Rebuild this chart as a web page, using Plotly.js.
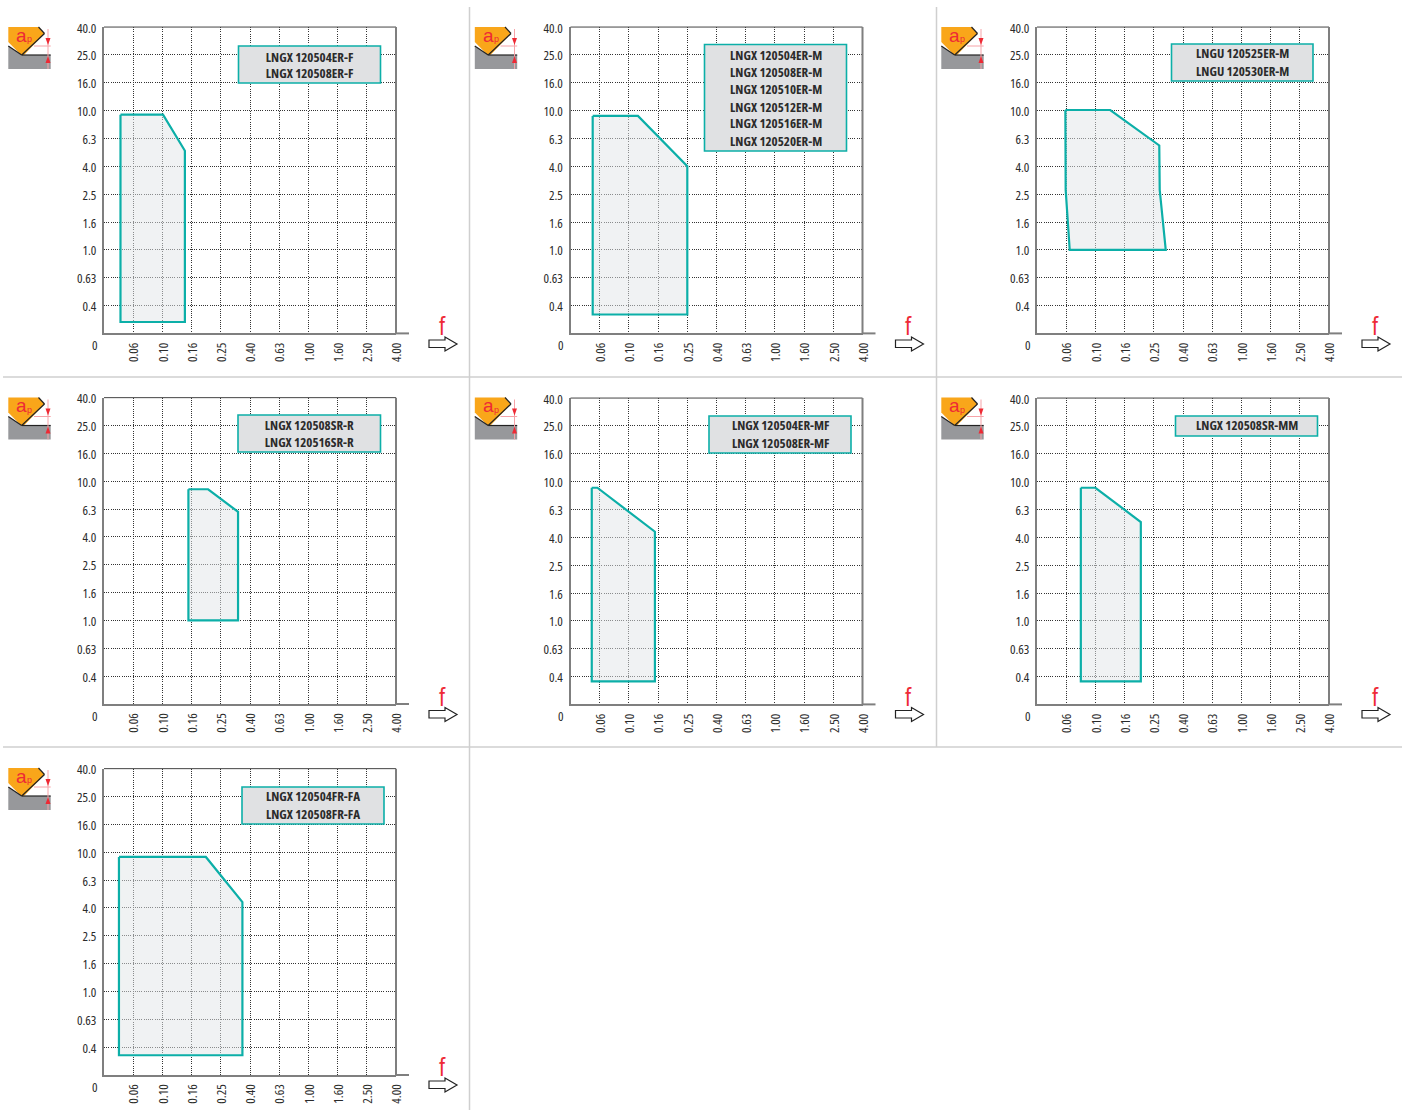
<!DOCTYPE html>
<html>
<head>
<meta charset="utf-8">
<script src="https://cdn.plot.ly/plotly-3.0.1.min.js"></script>
<style>html,body{margin:0;padding:0;background:#fff}#c{width:1410px;height:1110px}
#c text{font-stretch:75%}</style>
</head>
<body>
<div id="c"></div>
<script>
// Axis ladders (the charts use an even spacing per labelled step)
var feedTicks = [0.06, 0.10, 0.16, 0.25, 0.40, 0.63, 1.00, 1.60, 2.50, 4.00];
var feedLabels = ['0.06','0.10','0.16','0.25','0.40','0.63','1.00','1.60','2.50','4.00'];
var depthTicks = [0.4, 0.63, 1.0, 1.6, 2.5, 4.0, 6.3, 10.0, 16.0, 25.0, 40.0];
var depthLabels = ['0.4','0.63','1.0','1.6','2.5','4.0','6.3','10.0','16.0','25.0','40.0'];

// Operating windows: feed f and depth ap at each corner
var feed1 = [0.0489, 0.101, 0.1436, 0.1436, 0.0489, 0.0489];
var depth1 = [9.35, 9.35, 5.16, 0.303, 0.303, 9.35];
var feed2 = [0.0536, 0.1157, 0.25, 0.25, 0.0536, 0.0536];
var depth2 = [9.16, 9.16, 4.0, 0.344, 0.344, 9.16];
var feed3 = [0.0592, 0.127, 0.273, 0.275, 0.303, 0.0638, 0.0595, 0.0592];
var depth3 = [10.1, 10.1, 5.62, 2.68, 1.0, 1.0, 2.68, 10.1];
var feed4 = [0.152, 0.206, 0.33, 0.33, 0.152, 0.152];
var depth4 = [8.75, 8.75, 6.02, 1.0, 1.0, 8.75];
var feed5 = [0.0528, 0.0578, 0.152, 0.152, 0.0528, 0.0528];
var depth5 = [9.03, 9.03, 4.38, 0.369, 0.369, 9.03];
var feed6 = [0.0775, 0.1, 0.205, 0.205, 0.0775, 0.0775];
var depth6 = [9.03, 9.03, 5.13, 0.369, 0.369, 9.03];
var feed7 = [0.0477, 0.199, 0.354, 0.354, 0.0477, 0.0477];
var depth7 = [9.24, 9.24, 4.4, 0.349, 0.349, 9.24];

var models1 = ['LNGX 120504ER-F', 'LNGX 120508ER-F'];
var models2 = ['LNGX 120504ER-M', 'LNGX 120508ER-M', 'LNGX 120510ER-M', 'LNGX 120512ER-M', 'LNGX 120516ER-M', 'LNGX 120520ER-M'];
var models3 = ['LNGU 120525ER-M', 'LNGU 120530ER-M'];
var models4 = ['LNGX 120508SR-R', 'LNGX 120516SR-R'];
var models5 = ['LNGX 120504ER-MF', 'LNGX 120508ER-MF'];
var models6 = ['LNGX 120508SR-MM'];
var models7 = ['LNGX 120504FR-FA', 'LNGX 120508FR-FA'];

var W = 1410, H = 1110, STEPX = 29.2, STEPY = 27.85;
var NARROW = '"Open Sans",sans-serif';
var TEAL = '#0cafa8', GREY = '#7f7f7f', RED = '#ee2a35';

// Frame placement of each panel, in page pixels
var panels = [
  {feed: feed1, depth: depth1, models: models1, ox: 104, bottom: 333.4, dx: 0, dy: 0,
   box: [238.5, 380.5, 46, 83], lines: [56.5, 73.5]},
  {feed: feed2, depth: depth2, models: models2, ox: 570.5, bottom: 333.4, dx: 466.5, dy: 0,
   box: [704.5, 846.5, 44.5, 151], lines: [54.5, 71.5, 89, 106.5, 123.5, 140.5]},
  {feed: feed3, depth: depth3, models: models3, ox: 1037, bottom: 333.4, dx: 933, dy: 0,
   box: [1171.5, 1313, 44, 81], lines: [53.5, 70.5]},
  {feed: feed4, depth: depth4, models: models4, ox: 104, bottom: 704, dx: 0, dy: 370.5,
   box: [238, 380.5, 415, 452], lines: [424.5, 441.5]},
  {feed: feed5, depth: depth5, models: models5, ox: 570.5, bottom: 704.4, dx: 466.5, dy: 370.5,
   box: [709, 851, 416, 453], lines: [425.5, 442.5]},
  {feed: feed6, depth: depth6, models: models6, ox: 1037, bottom: 704.4, dx: 933, dy: 370.5,
   box: [1175.5, 1317.5, 416, 436], lines: [425.5]},
  {feed: feed7, depth: depth7, models: models7, ox: 104, bottom: 1075, dx: 0, dy: 741,
   box: [242, 384, 787, 824], lines: [795.5, 813.5]}
];

function px(x) { return x / W; }
function py(y) { return 1 - y / H; }

// Position on the evenly spaced step axis (log interpolation between labelled steps)
function toStep(v, ladder, below) {
  var full = [below].concat(ladder);
  for (var i = 0; i < full.length - 1; i++) {
    if (v <= full[i + 1]) return i + Math.log(v / full[i]) / Math.log(full[i + 1] / full[i]);
  }
  return full.length - 1;
}
function range(n, from) { var a = []; for (var i = 0; i < n; i++) a.push(i + from); return a; }

function pathOf(points, dx, dy) {
  return points.map(function (p, i) {
    return (i ? 'L' : 'M') + px(p[0] + dx) + ',' + py(p[1] + dy);
  }).join(' ') + ' Z';
}

var data = [], shapes = [], annotations = [];
var layout = {
  width: W, height: H, margin: {l: 0, r: 0, t: 0, b: 0},
  paper_bgcolor: '#fff', plot_bgcolor: 'rgba(0,0,0,0)', showlegend: false,
  font: {family: NARROW, color: '#2a2a2a'}
};

function paperLine(x0, y0, x1, y1, color, w) {
  shapes.push({type: 'line', xref: 'paper', yref: 'paper', x0: px(x0), y0: py(y0), x1: px(x1), y1: py(y1),
    line: {color: color, width: w}});
}
function label(x, y, text, font) {
  annotations.push({xref: 'paper', yref: 'paper', x: px(x), y: py(y), text: text,
    showarrow: false, xanchor: 'center', yanchor: 'middle', font: font});
}

// Separators between panels
var SEP = '#cfcfcf';
paperLine(3, 377, 1402, 377, SEP, 1.5);
paperLine(3, 747, 1402, 747, SEP, 1.5);
paperLine(469.5, 7, 469.5, 1110, SEP, 1.5);
paperLine(936.5, 7, 936.5, 747, SEP, 1.5);

panels.forEach(function (p, i) {
  var n = i + 1, xk = 'xaxis' + (i ? n : ''), yk = 'yaxis' + (i ? n : '');
  var xr = 'x' + (i ? n : ''), yr = 'y' + (i ? n : '');
  var right = p.ox + 10 * STEPX, top = p.bottom - 11 * STEPY;

  layout[xk] = {
    domain: [px(p.ox), px(right)], range: [0, 10], anchor: yr, fixedrange: true,
    tickmode: 'array', tickvals: range(10, 1), ticktext: feedLabels, tickangle: -90,
    tickfont: {family: NARROW, size: 13, color: '#2a2a2a'}, ticks: '', ticklabelstandoff: 2, ticklabelshift: 1,
    showgrid: true, gridcolor: '#333', gridwidth: 1, griddash: '1px,1.2px',
    zeroline: false, showline: true, linecolor: GREY, linewidth: 2
  };
  layout[yk] = {
    domain: [py(p.bottom), py(top)], range: [0, 11], anchor: xr, fixedrange: true,
    tickmode: 'array', tickvals: range(11, 1), ticktext: depthLabels,
    tickfont: {family: NARROW, size: 13, color: '#2a2a2a'}, ticks: '', ticklabelstandoff: 3, ticklabelshift: 1,
    showgrid: true, gridcolor: '#333', gridwidth: 1, griddash: '1px,1.2px',
    zeroline: false, showline: true, linecolor: GREY, linewidth: 2
  };

  data.push({
    type: 'scatter', mode: 'lines', xaxis: xr, yaxis: yr, hoverinfo: 'skip',
    x: p.feed.map(function (v) { return toStep(v, feedTicks, 0.0375); }),
    y: p.depth.map(function (v) { return toStep(v, depthTicks, 0.25); }),
    fill: 'toself', fillcolor: 'rgba(226,229,231,0.5)',
    line: {color: TEAL, width: 2.2, shape: 'linear'}
  });

  // frame: thin top edge, heavy right edge, bottom axis overrun
  paperLine(p.ox, top, right, top, '#444', 1);
  paperLine(right, top, right, p.bottom, GREY, 2);
  paperLine(right, p.bottom, right + 13, p.bottom, GREY, 2);

  label(p.ox - 10, p.bottom + 11.5, '0', {family: NARROW, size: 13, color: '#2a2a2a'});

  // model box
  shapes.push({type: 'rect', xref: 'paper', yref: 'paper',
    x0: px(p.box[0]), x1: px(p.box[1]), y0: py(p.box[2]), y1: py(p.box[3]),
    fillcolor: '#e0e1e3', line: {color: TEAL, width: 1.6}});
  p.models.forEach(function (m, k) {
    label((p.box[0] + p.box[1]) / 2, p.lines[k], '<b>' + m + '</b>', {family: NARROW, size: 13, color: '#2b2b2b'});
  });

  // ap icon
  var dx = p.dx, dy = p.dy;
  var poly = function (pts, fill, lc, lw) {
    shapes.push({type: 'path', xref: 'paper', yref: 'paper', path: pathOf(pts, dx, dy), fillcolor: fill,
      line: {color: lc || 'rgba(0,0,0,0)', width: lw || 0}});
  };
  poly([[8.3, 46], [21.7, 55], [50.7, 55], [50.7, 69], [8.3, 69]], '#97989b');
  poly([[8.3, 27], [38.5, 27], [44.5, 33.5], [24, 55], [21, 55], [8.3, 42]], '#f9a61a');
  paperLine(8.3 + dx, 46 + dy, 21.7 + dx, 55 + dy, '#222', 1.2);
  paperLine(21.7 + dx, 55 + dy, 50.7 + dx, 55 + dy, '#222', 1.2);
  paperLine(21.7 + dx, 55 + dy, 44.5 + dx, 33.5 + dy, '#222', 1.2);
  paperLine(44.5 + dx, 33.5 + dy, 38.5 + dx, 27 + dy, '#222', 1.2);
  paperLine(34 + dx, 46 + dy, 50.7 + dx, 46 + dy, '#f6a3a8', 1);
  paperLine(48 + dx, 29 + dy, 48 + dx, 69 + dy, '#f6a3a8', 1);
  poly([[45.5, 38], [50.5, 38], [48, 45]], RED);
  poly([[45.5, 63], [50.5, 63], [48, 56]], RED);
  label(21.5 + dx, 35 + dy, 'a', {family: '"Liberation Sans",sans-serif', size: 19, color: RED});
  label(29.5 + dx, 39 + dy, 'p', {family: '"Liberation Sans",sans-serif', size: 9, color: RED});

  // f arrow
  poly([[429, 340], [445, 340], [445, 337], [457, 344], [445, 351], [445, 347.5], [429, 347.5]], '#fff', '#222', 1.2);
  label(443 + dx, 325 + dy, 'f', {family: NARROW, size: 25, color: RED});
});

layout.shapes = shapes;
layout.annotations = annotations;
Plotly.newPlot('c', data, layout, {displayModeBar: false, staticPlot: true});
</script>
</body>
</html>
